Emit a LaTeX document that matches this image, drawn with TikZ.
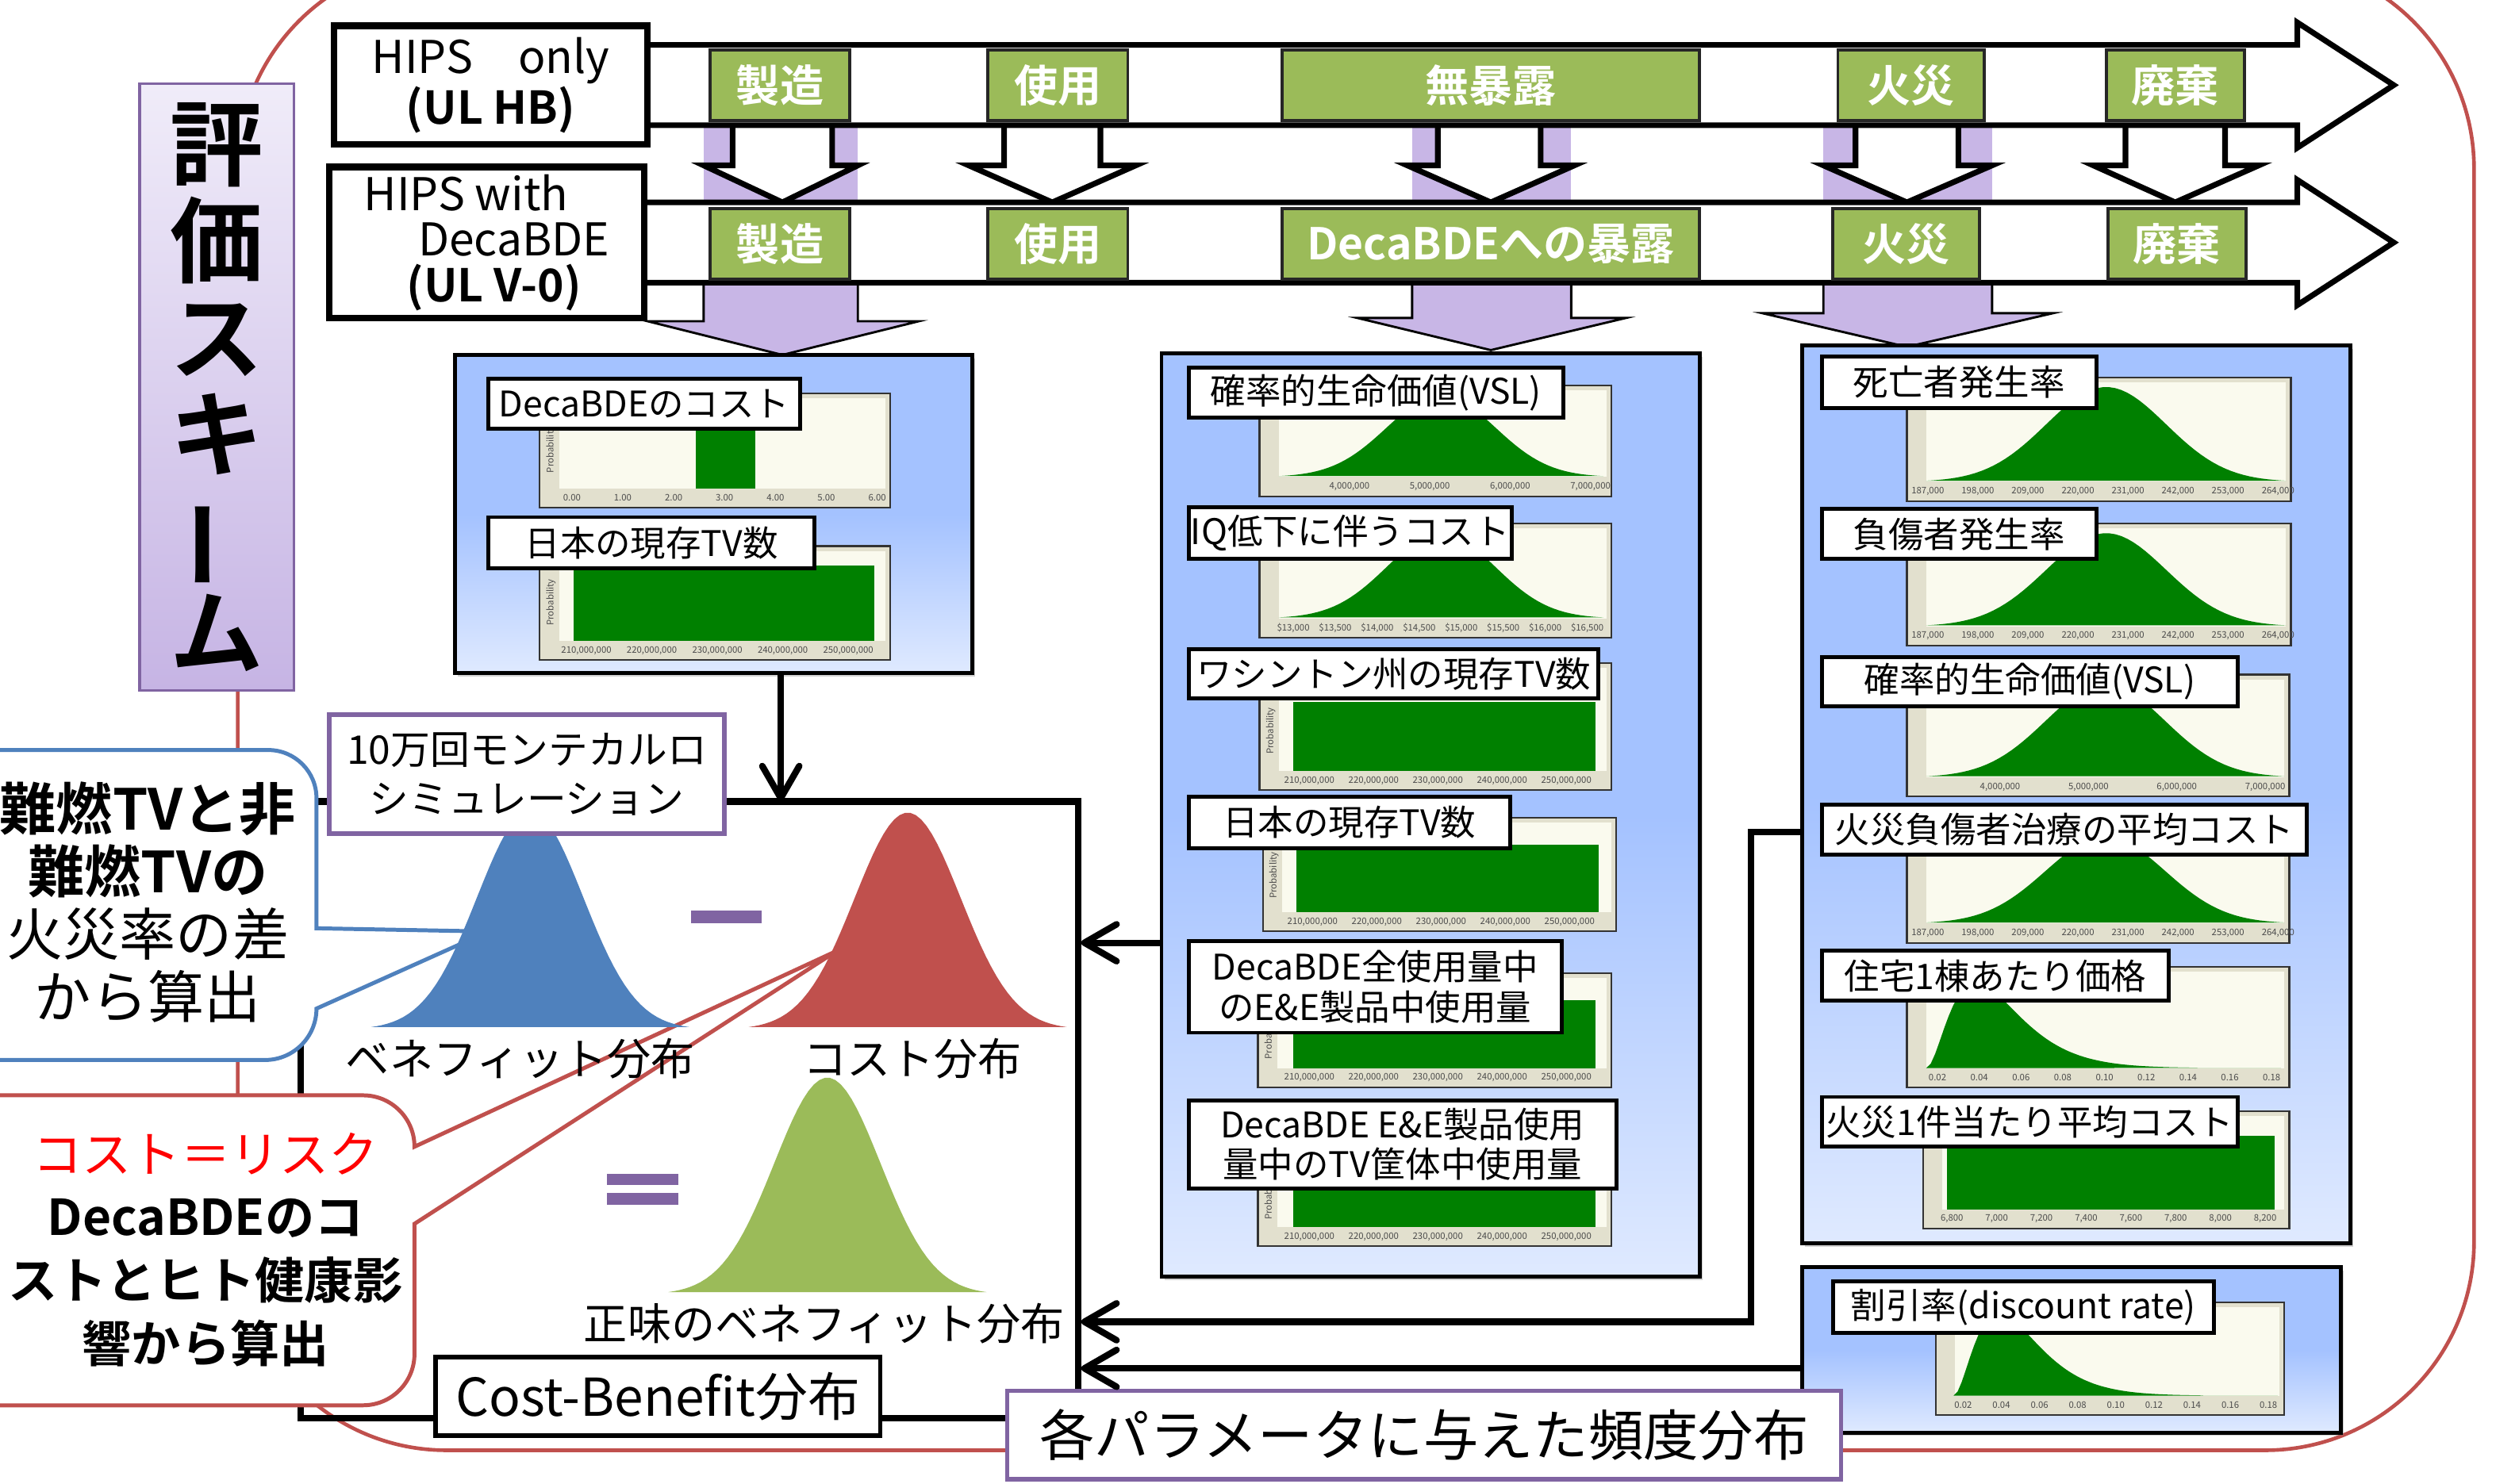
\documentclass[tikz,border=0pt]{standalone}
\usepackage{fontspec}
\setmainfont{Noto Sans CJK JP}[BoldFont={* Bold}]
\usepackage{graphicx}
\usetikzlibrary{arrows.meta,shadows}
\tikzset{>=latex}
\definecolor{lavender}{RGB}{200,182,230}
\definecolor{stagegreen}{RGB}{155,187,89}
\definecolor{boxblue}{RGB}{164,194,255}
\definecolor{framered}{RGB}{192,80,77}
\definecolor{calloutblue}{RGB}{79,129,189}
\definecolor{schemepurple}{RGB}{128,100,162}
\definecolor{distgreen}{RGB}{0,128,0}
\definecolor{panelcream}{RGB}{250,250,238}
\definecolor{panelbeige}{RGB}{226,224,206}

\tikzset{
  corners/.style args={#1/#2/#3/#4}{at={({(#1+#3)/2},{(#2+#4)/2})}, minimum width={(#3-#1)*0.2mm}, minimum height={(#4-#2)*0.2mm}},
  stage/.style={draw=black!85, line width=1.1pt, fill=stagegreen, text=white, inner sep=0pt, font=\bfseries\fontsize{15.5}{16}\selectfont},
  hipsbox/.style={draw, line width=2.4pt, fill=white, inner sep=0pt},
  blockarrow/.style={draw, line width=2pt, fill=white, line join=miter},
  lavarrow/.style={draw, line width=0.8pt, fill=lavender, line join=miter},
  parambox/.style={draw, line width=1.4pt, top color=boxblue, bottom color=boxblue!35!white, middle color=boxblue, inner sep=0pt,
    drop shadow={opacity=0.35, shadow xshift=1pt, shadow yshift=-1.2pt}},
  lab/.style={draw, line width=1.4pt, fill=white, inner sep=0pt, align=center, font=\fontsize{12.5}{14.2}\selectfont},
  panel/.style={draw=black!80, line width=0.6pt, fill=panelbeige},
  plotarea/.style={fill=panelcream},
  ticklab/.style={font=\fontsize{3.2}{3.5}\selectfont, text=black!70, inner sep=0pt},
  conn/.style={line width=2.3pt, line join=miter, -{Straight Barb[length=4mm, width=4.6mm, round]}},
  purplebox/.style={draw=schemepurple, line width=1.6pt, fill=white, inner sep=0pt, align=center},
  distlabel/.style={font=\fontsize{15.5}{17}\selectfont}
}

% chart panel: frame and plot area
\newcommand{\panelbox}[4]{%
  \draw[panel] (#1,#2) rectangle (#3,#4);
  \fill[plotarea] ({#1+12},{#2+3}) rectangle ({#3-3},{#4-12});}
% bell curve: x from, x to, peak y, base y
\newcommand{\normalcurve}[5][distgreen]{%
  \fill[#1] plot[domain=#2:#3, samples=60] (\x, {#5-(#5-#4)*exp(-0.5*((\x-(#2+#3)/2)/((#3-#2)/6))^2)}) -- cycle;}
% skewed curve: x from, x to, peak y, base y
\newcommand{\skewcurve}[4]{%
  \fill[distgreen] plot[domain=0:1, samples=80] ({#1+\x*(#2-#1)}, {#4-(#4-#3)*(\x/0.14)^2*exp(2*(1-\x/0.14))}) -- cycle;}
% tick labels: name, first x, last x, y, count, labels
\newcommand{\ticklabels}[6]{%
  \foreach \t [count=\i] in {#6}
    \node[ticklab] (#1-\i) at ({#2+(\i-1)*(#3-#2)/(#5-1)}, #4) {\t};}
\newcommand{\probtag}[3]{\node[ticklab, rotate=90] (#1) at (#2,#3) {Probability};}

\begin{document}
\begin{tikzpicture}[x=0.2mm, y=-0.2mm]
  \useasboundingbox (0,0) rectangle (1568,924);
  \fill[white] (0,0) rectangle (1568,924);

  % outer frame
  \draw[framered, line width=1.3pt, rounded corners=26mm] (148,-25) rectangle (1540,903);

  % scheme title
  \node[draw=schemepurple, line width=1pt, top color={rgb,255:red,240;green,236;blue,249}, bottom color={rgb,255:red,198;green,180;blue,228},
        corners=87/52/183/430, inner sep=0pt, align=center, font=\bfseries\fontsize{33}{34.3}\selectfont] (scheme)
        {評\\価\\ス\\キ\\\rotatebox[origin=c]{90}{ー}\\ム};

  % lavender behind the arrows
  \fill[lavender] (438,78) rectangle (534,126);
  \fill[lavender] (879,78) rectangle (978,126);
  \fill[lavender] (1135,78) rectangle (1240,126);
  \foreach \sl/\hl/\c/\hr/\sr/\hy/\ty in {438/403/487/572/534/200/221, 879/845/928/1012/978/198/218, 1135/1097/1187/1278/1240/195/216}
    \draw[lavarrow] (\sl,176) -- (\sl,\hy) -- (\hl,\hy) -- (\c,\ty) -- (\hr,\hy) -- (\sr,\hy) -- (\sr,176);

  % down arrows between the two life cycles
  \foreach \sl/\hl/\c/\hr/\sr in {456/438/487/534/518, 625/603/655/707/685, 895/876/928/980/959, 1155/1135/1187/1240/1219, 1323/1303/1354/1406/1385}
    \draw[blockarrow] (\sl,78) -- (\sl,103) -- (\hl,103) -- (\c,126) -- (\hr,103) -- (\sr,103) -- (\sr,78);

  % life cycle arrows
  \draw[blockarrow] (395,28) -- (1430,28) -- (1430,14) -- (1490,53) -- (1430,92) -- (1430,78) -- (395,78) -- cycle;
  \draw[blockarrow] (395,126) -- (1430,126) -- (1430,112) -- (1490,151) -- (1430,190) -- (1430,176) -- (395,176) -- cycle;

  \node[hipsbox, corners=208/16/403/90, align=center, font=\fontsize{16}{16.5}\selectfont] (hipsonly) {HIPS\quad only\\\textbf{(UL HB)}};
  \node[hipsbox, corners=205/104/401/198, align=left, font=\fontsize{16}{16.2}\selectfont] (hipsdeca)
       {HIPS with\\\hspace*{1.2em}DecaBDE\\\hspace*{0.95em}\textbf{(UL V-0)}};

  \node[stage, corners=442/31/529/75] (mfgA) {製造};
  \node[stage, corners=615/31/702/75] (useA) {使用};
  \node[stage, corners=798/31/1058/75] (noexp) {無暴露};
  \node[stage, corners=1144/31/1235/75] (fireA) {火災};
  \node[stage, corners=1311/31/1397/75] (dispA) {廃棄};
  \node[stage, corners=442/130/529/174] (mfgB) {製造};
  \node[stage, corners=615/130/702/174] (useB) {使用};
  \node[stage, corners=798/130/1058/174] (exposure) {DecaBDEへの暴露};
  \node[stage, corners=1141/130/1232/174] (fireB) {火災};
  \node[stage, corners=1312/130/1398/174] (dispB) {廃棄};

  % parameter boxes
  \node[parambox, corners=283/221/605/419] (pA) {};
  \node[parambox, corners=723/220/1058/795] (pB) {};
  \node[parambox, corners=1122/215/1463/774] (pC) {};
  \node[parambox, corners=1122/789/1457/892] (pD) {};

  % box A
  \panelbox{336}{245}{554}{316}
  \fill[distgreen] (433,268) rectangle (470,304);
  \probtag{pA1-prob}{343}{280}
  \ticklabels{pA1}{356}{546}{310}{7}{0.00,1.00,2.00,3.00,4.00,5.00,6.00}
  \node[lab, corners=304/236/498/267] (decacost) {DecaBDEのコスト};
  \panelbox{336}{340}{554}{411}
  \fill[distgreen] (357,352) rectangle (544,399);
  \probtag{pA2-prob}{343}{375}
  \ticklabels{pA2}{365}{528}{405}{5}{{210,000,000},{220,000,000},{230,000,000},{240,000,000},{250,000,000}}
  \node[lab, corners=304/322/507/354] (tvjpA) {日本の現存TV数};

  % box B
  \panelbox{784}{240}{1003}{309}
  \normalcurve{796}{998}{246}{297}
  \ticklabels{pB1}{840}{990}{303}{4}{{4,000,000},{5,000,000},{6,000,000},{7,000,000}}
  \node[lab, corners=740/229/973/260] (vslB) {確率的生命価値(VSL)};
  \panelbox{784}{326}{1003}{397}
  \normalcurve{796}{998}{332}{385}
  \ticklabels{pB2}{805}{988}{391}{8}{{\$13,000},{\$13,500},{\$14,000},{\$14,500},{\$15,000},{\$15,500},{\$16,000},{\$16,500}}
  \node[lab, corners=740/316/941/348] (iqcost) {IQ低下に伴うコスト};
  \panelbox{784}{413}{1003}{492}
  \fill[distgreen] (805,437) rectangle (993,480);
  \probtag{pB3-prob}{791}{455}
  \ticklabels{pB3}{815}{975}{486}{5}{{210,000,000},{220,000,000},{230,000,000},{240,000,000},{250,000,000}}
  \node[lab, corners=740/404/995/435] (tvwa) {ワシントン州の現存TV数};
  \panelbox{786}{509}{1006}{580}
  \fill[distgreen] (807,526) rectangle (995,568);
  \probtag{pB4-prob}{793}{545}
  \ticklabels{pB4}{817}{977}{574}{5}{{210,000,000},{220,000,000},{230,000,000},{240,000,000},{250,000,000}}
  \node[lab, corners=740/496/940/528] (tvjpB) {日本の現存TV数};
  \panelbox{783}{606}{1003}{677}
  \fill[distgreen] (805,623) rectangle (993,665);
  \probtag{pB5-prob}{790}{645}
  \ticklabels{pB5}{815}{975}{671}{5}{{210,000,000},{220,000,000},{230,000,000},{240,000,000},{250,000,000}}
  \node[lab, corners=740/586/972/643] (eeshare) {DecaBDE全使用量中\\のE\&E製品中使用量};
  \panelbox{783}{705}{1003}{776}
  \fill[distgreen] (805,720) rectangle (993,764);
  \probtag{pB6-prob}{790}{745}
  \ticklabels{pB6}{815}{975}{770}{5}{{210,000,000},{220,000,000},{230,000,000},{240,000,000},{250,000,000}}
  \node[lab, corners=740/685/1006/740] (tvshare) {DecaBDE E\&E製品使用\\量中のTV筐体中使用量};

  % box C
  \panelbox{1187}{235}{1426}{312}
  \normalcurve{1199}{1423}{241}{300}
  \ticklabels{pC1}{1200}{1418}{306}{8}{{187,000},{198,000},{209,000},{220,000},{231,000},{242,000},{253,000},{264,000}}
  \node[lab, corners=1134/222/1305/254] (death) {死亡者発生率};
  \panelbox{1187}{326}{1426}{402}
  \normalcurve{1199}{1423}{332}{390}
  \ticklabels{pC2}{1200}{1418}{396}{8}{{187,000},{198,000},{209,000},{220,000},{231,000},{242,000},{253,000},{264,000}}
  \node[lab, corners=1134/317/1305/348] (injury) {負傷者発生率};
  \panelbox{1187}{420}{1425}{496}
  \normalcurve{1199}{1422}{426}{484}
  \ticklabels{pC3}{1245}{1410}{490}{4}{{4,000,000},{5,000,000},{6,000,000},{7,000,000}}
  \node[lab, corners=1134/409/1393/440] (vslC) {確率的生命価値(VSL)};
  \panelbox{1187}{515}{1425}{587}
  \normalcurve{1199}{1422}{521}{575}
  \ticklabels{pC4}{1200}{1418}{581}{8}{{187,000},{198,000},{209,000},{220,000},{231,000},{242,000},{253,000},{264,000}}
  \node[lab, corners=1134/501/1436/532] (treat) {火災負傷者治療の平均コスト};
  \panelbox{1187}{602}{1425}{677}
  \skewcurve{1199}{1420}{612}{665}
  \ticklabels{pC5}{1206}{1414}{671}{9}{0.02,0.04,0.06,0.08,0.10,0.12,0.14,0.16,0.18}
  \node[lab, corners=1134/592/1350/623] (house) {住宅1棟あたり価格};
  \panelbox{1197}{692}{1425}{765}
  \fill[distgreen] (1212,707) rectangle (1416,753);
  \ticklabels{pC6}{1215}{1410}{759}{8}{{6,800},{7,000},{7,200},{7,400},{7,600},{7,800},{8,000},{8,200}}
  \node[lab, corners=1134/683/1393/714] (firecost) {火災1件当たり平均コスト};

  % box D
  \panelbox{1205}{811}{1422}{881}
  \skewcurve{1216}{1418}{818}{869}
  \ticklabels{pD}{1222}{1412}{875}{9}{0.02,0.04,0.06,0.08,0.10,0.12,0.14,0.16,0.18}
  \node[lab, corners=1141/798/1378/830] (discount) {割引率(discount rate)};

  % result frame
  \node[draw, line width=2.3pt, corners=187/499/671/883, inner sep=0pt] (result) {};

  % callouts
  \draw[calloutblue, line width=1.4pt, fill=white] (-30,467) -- (167,467) arc[start angle=-90, end angle=0, radius=30]
    -- (197,578) -- (304,580) -- (197,628) arc[start angle=0, end angle=90, radius=32] -- (-30,660) -- cycle;
  \draw[framered, line width=1.4pt, fill=white] (-30,682) -- (226,682) arc[start angle=-90, end angle=0, radius=32]
    -- (521,592) -- (258,762) -- (258,843) arc[start angle=0, end angle=90, radius=32] -- (-30,875) -- cycle;
  \node[align=center, font=\fontsize{20}{22.2}\selectfont] (bluenote) at (92,562)
       {\textbf{難燃TVと非}\\\textbf{難燃TVの}\\火災率の差\\から算出};
  \node[align=center, font=\fontsize{17.5}{22.4}\selectfont] (rednote) at (128,778)
       {\textcolor{red}{コスト＝リスク}\\\textbf{DecaBDEのコ}\\\textbf{ストとヒト健康影}\\\textbf{響から算出}};

  % distributions
  \normalcurve[calloutblue]{231}{429}{505}{641}
  \normalcurve[framered]{466}{664}{506}{641}
  \normalcurve[stagegreen]{416}{614}{671}{806}
  \fill[schemepurple] (430,567) rectangle (474,575);
  \fill[schemepurple] (378,731) rectangle (422,738);
  \fill[schemepurple] (378,743) rectangle (422,750);
  \node[distlabel] (benefit) at (324,659) {ベネフィット分布};
  \node[distlabel] (cost) at (568,659) {コスト分布};
  \node[distlabel] (net) at (513,824) {正味のベネフィット分布};

  \node[purplebox, corners=205/445/451/519, font=\fontsize{14}{17.6}\selectfont] (montecarlo) {10万回モンテカルロ\\シミュレーション};
  \node[draw, line width=1.6pt, fill=white, corners=271/845/548/894, inner sep=0pt, font=\fontsize{18.5}{20}\selectfont] (cbdist) {Cost-Benefit分布};
  \node[purplebox, corners=627/866/1146/921, font=\fontsize{19.5}{22}\selectfont] (freq) {各パラメータに与えた頻度分布};

  % connectors
  \coordinate (frametop) at (486,499);
  \coordinate (levelB) at (0,587);
  \coordinate (bendC) at (1090,518);
  \coordinate (bendCb) at (1090,823);
  \coordinate (levelD) at (0,852);
  \draw[conn] (pA.south -| frametop) -- (frametop);
  \draw[conn] (pB.west |- levelB) -- (result.east |- levelB);
  \draw[conn] (pC.west |- bendC) -- (bendC) -- (bendCb) -- (result.east |- bendCb);
  \draw[conn] (pD.west |- levelD) -- (result.east |- levelD);
\end{tikzpicture}
\end{document}
